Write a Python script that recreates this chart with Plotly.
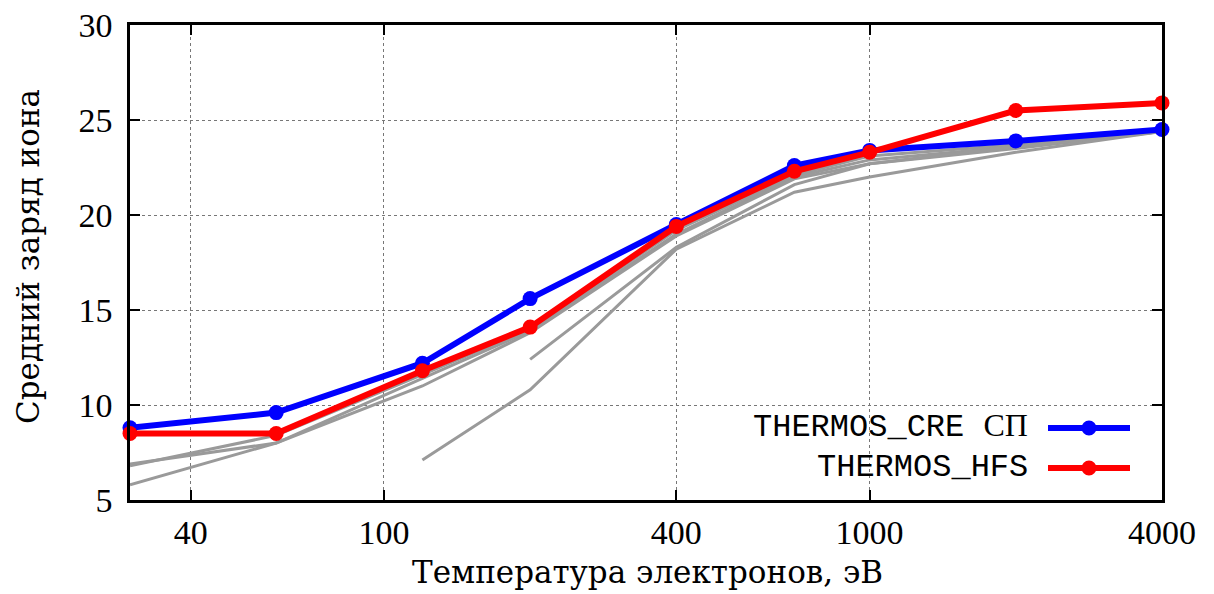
import plotly.graph_objects as go
import numpy as np

# Temperatures (eV)
temps = [30, 60, 120, 200, 400, 700, 1000, 2000, 4000]
cre_sp = [8.8, 9.6, 12.2, 15.6, 19.5, 22.6, 23.4, 23.9, 24.5]
hfs = [8.5, 8.5, 11.8, 14.1, 19.4, 22.3, 23.3, 25.5, 25.9]

# Other (gray) reference curves
g1_t = [30, 60, 120, 200, 400, 700, 1000, 2000, 4000]
g1_z = [6.8, 8.4, 11.6, 14.0, 19.2, 22.1, 23.1, 23.7, 24.4]
g2_t = [30, 60, 120, 200, 400, 700, 1000, 2000, 4000]
g2_z = [6.9, 8.0, 11.4, 13.9, 19.0, 22.0, 22.9, 23.6, 24.4]
g3_t = [30, 60, 120, 200, 400, 700, 1000, 2000, 4000]
g3_z = [5.8, 8.0, 11.0, 13.8, 18.9, 21.9, 22.7, 23.5, 24.4]
g4_t = [120, 200, 400, 700, 1000, 2000, 4000]
g4_z = [7.1, 10.8, 18.2, 21.2, 22.0, 23.3, 24.4]
g5_t = [200, 400, 700, 1000, 2000, 4000]
g5_z = [12.4, 18.3, 21.6, 22.7, 23.6, 24.4]

x_ticks = [40, 100, 400, 1000, 4000]
x_ticktext = ["40", "100", "400", "1000", "4000"]
y_ticks = [5, 10, 15, 20, 25, 30]

BLUE = "#0000ff"
RED = "#ff0000"
GRAY = "#9a9a9a"
SERIF = "Liberation Serif"
TITLE_SERIF = "DejaVu Serif"
MONO = "Liberation Mono"

fig = go.Figure()
for gt, gz in [(g1_t, g1_z), (g2_t, g2_z), (g3_t, g3_z), (g4_t, g4_z), (g5_t, g5_z)]:
    fig.add_trace(go.Scatter(x=gt, y=gz, mode="lines",
                             line=dict(color=GRAY, width=3), showlegend=False,
                             hoverinfo="skip"))
fig.add_trace(go.Scatter(x=temps, y=cre_sp, mode="lines+markers",
                         line=dict(color=BLUE, width=6),
                         marker=dict(color=BLUE, size=15),
                         name="THERMOS_CRE СП", showlegend=False, cliponaxis=False))
fig.add_trace(go.Scatter(x=temps, y=hfs, mode="lines+markers",
                         line=dict(color=RED, width=6),
                         marker=dict(color=RED, size=15),
                         name="THERMOS_HFS", showlegend=False, cliponaxis=False))

axis_common = dict(showline=True, linecolor="black", linewidth=2.5, mirror="ticks",
                   ticks="inside", ticklen=10, tickwidth=2, tickcolor="black",
                   showgrid=True, gridcolor="#777777", gridwidth=1, griddash="dot",
                   zeroline=False, automargin=False, ticklabeloverflow="allow",
                   tickfont=dict(family=SERIF, size=34, color="black"))

fig.update_xaxes(type="log", range=[np.log10(30), np.log10(4000)],
                 tickvals=x_ticks, ticktext=x_ticktext, ticklabelstandoff=0, **axis_common)
fig.update_yaxes(range=[5, 30], tickvals=y_ticks, ticklabelstandoff=8, **axis_common)

# The page body adds an 8 px offset; the figure is sized so that the plot area
# lands at screen pixels x 130..1162, y 25..500.
OFF = 8
W, H = 1214 - OFF, 594 - OFF
PL, PR, PT, PB = 130, 1162, 25, 500
L, R, T, B = PL - OFF, 1214 - PR, PT - OFF, 594 - PB
pw, ph = PR - PL, PB - PT

def px(xs):
    return (xs - PL) / pw

def py(ys):
    return (PB - ys) / ph

annotations = [
    dict(text="Средний заряд иона", xref="paper", yref="paper", x=px(28), y=py(257),
         textangle=-90, showarrow=False, font=dict(family=TITLE_SERIF, size=31, color="black"),
         xanchor="center", yanchor="middle"),
    dict(text="Температура электронов, эВ", xref="paper", yref="paper", x=px(647), y=py(572),
         showarrow=False, font=dict(family=TITLE_SERIF, size=31, color="black"),
         xanchor="center", yanchor="middle"),
    dict(text="THERMOS_CRE <span style='font-family:Liberation Serif'>СП</span>",
         xref="paper", yref="paper", x=px(1030), y=py(426), showarrow=False,
         font=dict(family=MONO, size=32, color="black"), xanchor="right", yanchor="middle"),
    dict(text="THERMOS_HFS", xref="paper", yref="paper", x=px(1030), y=py(467), showarrow=False,
         font=dict(family=MONO, size=32, color="black"), xanchor="right", yanchor="middle"),
]

shapes = []
for color, ys in [(BLUE, 428), (RED, 468)]:
    shapes.append(dict(type="line", xref="paper", yref="paper", x0=px(1048), x1=px(1130),
                       y0=py(ys), y1=py(ys), line=dict(color=color, width=6)))
    shapes.append(dict(type="circle", xref="paper", yref="paper", xsizemode="pixel",
                       ysizemode="pixel", xanchor=px(1089), yanchor=py(ys),
                       x0=-7.5, x1=7.5, y0=-7.5, y1=7.5,
                       fillcolor=color, line=dict(color=color, width=0)))

fig.update_layout(width=W, height=H, margin=dict(l=L, r=R, t=T, b=B),
                  plot_bgcolor="white", paper_bgcolor="white",
                  annotations=annotations, shapes=shapes, showlegend=False)

fig.write_html("out.html")
